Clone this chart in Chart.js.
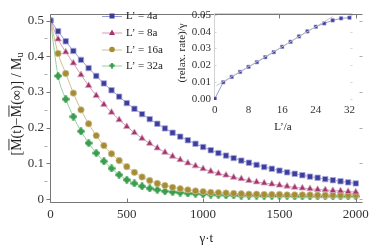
<!DOCTYPE html>
<html><head><meta charset="utf-8">
<script src="https://cdn.jsdelivr.net/npm/chart.js@4.4.0/dist/chart.umd.min.js"></script>
<style>
html,body{margin:0;padding:0;background:#fff;}
#wrap{position:relative;width:374px;height:249px;overflow:hidden;}
#main{position:absolute;left:0;top:0;}
#inset{position:absolute;left:160px;top:0;}
</style></head><body>
<div id="wrap">
<canvas id="main" width="374" height="249"></canvas>
<canvas id="inset" width="210" height="140"></canvas>
</div>
<script>
// ---- data ----
const times = [0,50,100,150,200,250,300,350,400,450,500,550,600,650,700,750,800,850,900,950,1000,1050,1100,1150,1200,1250,1300,1350,1400,1450,1500,1550,1600,1650,1700,1750,1800,1850,1900,1950,2000];
const seriesNames = ["L\u2019 = 4a","L\u2019 = 8a","L\u2019 = 16a","L\u2019 = 32a"];
const blue = [0.500,0.470,0.442,0.415,0.390,0.367,0.345,0.324,0.305,0.287,0.269,0.253,0.238,0.224,0.211,0.198,0.186,0.175,0.165,0.155,0.146,0.137,0.129,0.122,0.115,0.108,0.102,0.096,0.090,0.085,0.080,0.075,0.071,0.067,0.063,0.060,0.056,0.053,0.050,0.047,0.044];
const pink = [0.500,0.448,0.412,0.381,0.348,0.318,0.290,0.265,0.243,0.222,0.203,0.186,0.170,0.156,0.143,0.131,0.120,0.110,0.101,0.093,0.085,0.078,0.072,0.067,0.061,0.057,0.052,0.048,0.045,0.042,0.039,0.036,0.033,0.031,0.029,0.027,0.026,0.024,0.023,0.021,0.020];
const gold = [0.500,0.408,0.352,0.297,0.250,0.211,0.178,0.150,0.127,0.108,0.091,0.075,0.062,0.052,0.044,0.038,0.033,0.029,0.026,0.023,0.021,0.019,0.018,0.017,0.016,0.015,0.014,0.014,0.013,0.013,0.013,0.012,0.012,0.012,0.012,0.011,0.011,0.011,0.011,0.011,0.011];
const green = [0.500,0.345,0.280,0.231,0.190,0.157,0.129,0.106,0.086,0.068,0.054,0.044,0.036,0.030,0.026,0.022,0.020,0.018,0.016,0.015,0.014,0.013,0.012,0.011,0.011,0.010,0.010,0.010,0.009,0.009,0.009,0.009,0.008,0.008,0.008,0.008,0.008,0.008,0.008,0.008,0.008];
const xTicks = [0,500,1000,1500,2000];
const yTicks = [0,0.1,0.2,0.3,0.4,0.5];
const yMinor = [0.05,0.15,0.25,0.35,0.45];

const insetL = [0,2,4,6,8,10,12,14,16,18,20,22,24,26,28,30,32];
const insetRate = [0.0000,0.0098,0.0130,0.0160,0.0190,0.0218,0.0248,0.0278,0.0310,0.0340,0.0372,0.0402,0.0430,0.0450,0.0468,0.0480,0.0484];
const fitL = [0.4,28.0];
const fitRate = [0.0078,0.0490];
const insetXTicks = [0,8,16,24,32];
const insetYTicks = [0,0.01,0.02,0.03,0.04,0.05];

// ---- styles ----
const SERIF = '"Liberation Serif","Times New Roman",serif';
const cols = {
  blue:{pt:'#3d3d9e', ln:'#9a9ad6', edge:'#a9a9dc'},
  pink:{pt:'#a3346c', ln:'#d79ab8', edge:'#d6a6bf'},
  gold:{pt:'#a68d35', ln:'#cfc08a', edge:'#cdbf8f'},
  green:{pt:'#3b9e4e', ln:'#94d1a0', edge:'#9fd2a9'}
};
function plusMarker(color, s){
  const c=document.createElement('canvas'); c.width=s; c.height=s;
  const g=c.getContext('2d'); g.fillStyle=color;
  const m=s/2;
  g.beginPath(); g.arc(m,m,s*0.33,0,2*Math.PI); g.fill();
  g.fillRect(m-s*0.16,0.3,s*0.32,s-0.6);
  g.fillRect(0.3,m-s*0.16,s-0.6,s*0.32);
  return c;
}
const greenMark = plusMarker(cols.green.pt, 8);
const greenMarkSmall = plusMarker(cols.green.pt, 6);

function pts(arr){ return times.map((t,i)=>({x:t,y:arr[i]})); }
function ds(label, arr, c, style, r){
  return {label, data:pts(arr), borderColor:c.ln, borderWidth:1, backgroundColor:c.pt,
    pointBackgroundColor:c.pt, pointBorderColor:c.edge, pointBorderWidth:style==='image'?0:0.8,
    pointStyle: style==='image'? greenMark : style, pointRadius:r, pointHoverRadius:r,
    cubicInterpolationMode:'monotone', fill:false};
}

const mainDeco = {
  id:'mainDeco',
  afterDraw(chart){
    const {ctx, chartArea:a, scales:{x,y}} = chart;
    ctx.save();
    ctx.strokeStyle='#777'; ctx.lineWidth=1;
    ctx.beginPath();
    const L=a.left+0.5, B=Math.round(a.bottom)+0.5, T=Math.round(a.top)+0.5, R=a.right;
    ctx.moveTo(L,T); ctx.lineTo(L,B); ctx.lineTo(R,B);
    ctx.moveTo(L,T); ctx.lineTo(R,T);
    xTicks.forEach(v=>{const px=Math.round(x.getPixelForValue(v))+0.5;
      ctx.moveTo(px,B); ctx.lineTo(px,B-4); ctx.moveTo(px,T); ctx.lineTo(px,T+4);});
    yTicks.forEach(v=>{const py=Math.round(y.getPixelForValue(v))+0.5;
      ctx.moveTo(L,py); ctx.lineTo(L-4,py);});
    ctx.stroke();
    ctx.strokeStyle='#aaa'; ctx.beginPath();
    yMinor.forEach(v=>{const py=Math.round(y.getPixelForValue(v))+0.5;
      ctx.moveTo(L-3,py); ctx.lineTo(L-6,py);});
    yTicks.forEach(v=>{const py=Math.round(y.getPixelForValue(v))+0.5;
      ctx.moveTo(R,py); ctx.lineTo(R-3,py);});
    ctx.stroke();

    // y title
    ctx.fillStyle='#222';
    ctx.save();
    ctx.translate(16,104); ctx.rotate(-Math.PI/2);
    const big='14px '+SERIF, small='10px '+SERIF;
    const parts=[{t:'[',f:big},{t:'M',f:big,o:1},{t:'(t)\u2212',f:big},{t:'M',f:big,o:1},{t:'(\u221E)] / M',f:big},{t:'u',f:small,s:1}];
    let w=0; parts.forEach(p=>{ctx.font=p.f; p.w=ctx.measureText(p.t).width; w+=p.w;});
    let cx=-w/2; ctx.textBaseline='alphabetic'; ctx.textAlign='left';
    parts.forEach(p=>{ctx.font=p.f; ctx.fillText(p.t,cx,p.s?7:5);
      if(p.o){ctx.fillRect(cx+0.5,-7.5,p.w-1,0.9);} cx+=p.w;});
    ctx.restore();

    // x title
    ctx.font='13px '+SERIF; ctx.textAlign='center'; ctx.textBaseline='middle';
    ctx.fillText('\u03B3\u00B7t', (a.left+a.right)/2, 239);

    // legend
    const rows=[{c:cols.blue,s:'rect'},{c:cols.pink,s:'tri'},{c:cols.gold,s:'circ'},{c:cols.green,s:'plus'}];
    const ys=[16,32.5,49.5,65.5];
    ctx.font='11px '+SERIF; ctx.textAlign='left'; ctx.textBaseline='middle';
    rows.forEach((r,i)=>{
      const yy=ys[i];
      ctx.strokeStyle=r.c.ln; ctx.lineWidth=1;
      ctx.beginPath(); ctx.moveTo(102,yy+0.5); ctx.lineTo(122,yy+0.5); ctx.stroke();
      ctx.fillStyle=r.c.pt;
      const mx=112;
      if(r.s==='rect'){ctx.fillRect(mx-2.5,yy-2.5,5,5);}
      else if(r.s==='tri'){ctx.beginPath();ctx.moveTo(mx,yy-3);ctx.lineTo(mx+3,yy+2.5);ctx.lineTo(mx-3,yy+2.5);ctx.closePath();ctx.fill();}
      else if(r.s==='circ'){ctx.beginPath();ctx.arc(mx,yy,2.8,0,2*Math.PI);ctx.fill();}
      else {ctx.drawImage(greenMarkSmall,mx-3,yy-3);}
      ctx.fillStyle='#222';
      ctx.fillText(seriesNames[i],126,yy+0.5);
    });
    ctx.restore();
  }
};

new Chart(document.getElementById('main'), {
  type:'line',
  data:{datasets:[
    ds(seriesNames[0], blue, cols.blue, 'rect', 3.8),
    ds(seriesNames[1], pink, cols.pink, 'triangle', 3.8),
    ds(seriesNames[2], gold, cols.gold, 'circle', 3.2),
    ds(seriesNames[3], green, cols.green, 'image', 4)
  ]},
  options:{
    responsive:false, devicePixelRatio:1, animation:false,
    layout:{padding:{top:5,right:10,left:0,bottom:0}},
    plugins:{legend:{display:false}, tooltip:{enabled:false}},
    scales:{
      x:{type:'linear', min:-3, max:2044,
        grid:{display:false, drawTicks:false}, border:{display:false},
        afterBuildTicks:s=>{s.ticks=xTicks.map(v=>({value:v}));},
        afterFit:s=>{s.height=47;},
        ticks:{font:{family:SERIF,size:13}, color:'#333', padding:5, maxRotation:0, autoSkip:false,
          callback:v=>String(v)}},
      y:{type:'linear', min:-0.008, max:0.519,
        grid:{display:false, drawTicks:false}, border:{display:false},
        afterBuildTicks:s=>{s.ticks=yTicks.map(v=>({value:v}));},
        afterFit:s=>{s.width=50;},
        ticks:{font:{family:SERIF,size:13}, color:'#333', padding:6,
          callback:v=> v===0?'0':v.toFixed(1)}}
    }
  },
  plugins:[mainDeco]
});

// ---- inset ----
const insetDeco = {
  id:'insetDeco',
  beforeDatasetsDraw(chart){
    const {ctx, chartArea:a, scales:{y}} = chart;
    ctx.save();
    ctx.strokeStyle='#d2d2d2'; ctx.lineWidth=1;
    ctx.beginPath();
    const L=Math.round(a.left)+0.5, T=Math.round(a.top)+0.5, R=Math.round(a.right)+0.5;
    ctx.moveTo(L,a.bottom); ctx.lineTo(L,T); ctx.lineTo(R,T);
    insetYTicks.forEach(v=>{const py=Math.round(y.getPixelForValue(v))+0.5;
      ctx.moveTo(L,py); ctx.lineTo(L+2,py); ctx.moveTo(R,py); ctx.lineTo(R-2,py);});
    ctx.stroke();
    ctx.restore();
  },
  afterDraw(chart){
    const {ctx, chartArea:a} = chart;
    ctx.save();
    ctx.fillStyle='#222';
    ctx.font='11px '+SERIF; ctx.textAlign='center'; ctx.textBaseline='middle';
    ctx.fillText('L\u2019/a', (a.left+a.right)/2, 127);
    ctx.translate(22,53); ctx.rotate(-Math.PI/2);
    ctx.fillText('(relax. rate)/\u03B3',0,0);
    ctx.restore();
  }
};

new Chart(document.getElementById('inset'), {
  type:'line',
  data:{datasets:[
    {data:fitL.map((v,i)=>({x:v,y:fitRate[i]})), borderColor:'#c4c4c4', borderWidth:1, pointRadius:0, fill:false},
    {data:insetL.map((v,i)=>({x:v,y:insetRate[i]})), borderColor:'#9a9ad6', borderWidth:1,
      pointStyle:'rect', pointRadius:2.4, pointBackgroundColor:'#3d3d9e', pointBorderColor:'#8c8cd0', pointBorderWidth:0.6, fill:false}
  ]},
  options:{
    responsive:false, devicePixelRatio:1, animation:false,
    layout:{padding:{top:13,right:18,left:0,bottom:0}},
    plugins:{legend:{display:false}, tooltip:{enabled:false}},
    scales:{
      x:{type:'linear', min:-0.2, max:32.6,
        grid:{display:false, drawTicks:false}, border:{display:false},
        afterBuildTicks:s=>{s.ticks=insetXTicks.map(v=>({value:v}));},
        afterFit:s=>{s.height=40;},
        ticks:{font:{family:SERIF,size:11}, color:'#333', padding:4, maxRotation:0, autoSkip:false}},
      y:{type:'linear', min:-0.0008, max:0.0512,
        grid:{display:false, drawTicks:false}, border:{display:false},
        afterBuildTicks:s=>{s.ticks=insetYTicks.map(v=>({value:v}));},
        afterFit:s=>{s.width=54;},
        ticks:{font:{family:SERIF,size:11}, color:'#333', padding:3, callback:v=>v.toFixed(2)}}
    }
  },
  plugins:[insetDeco]
});
</script>
</body></html>
